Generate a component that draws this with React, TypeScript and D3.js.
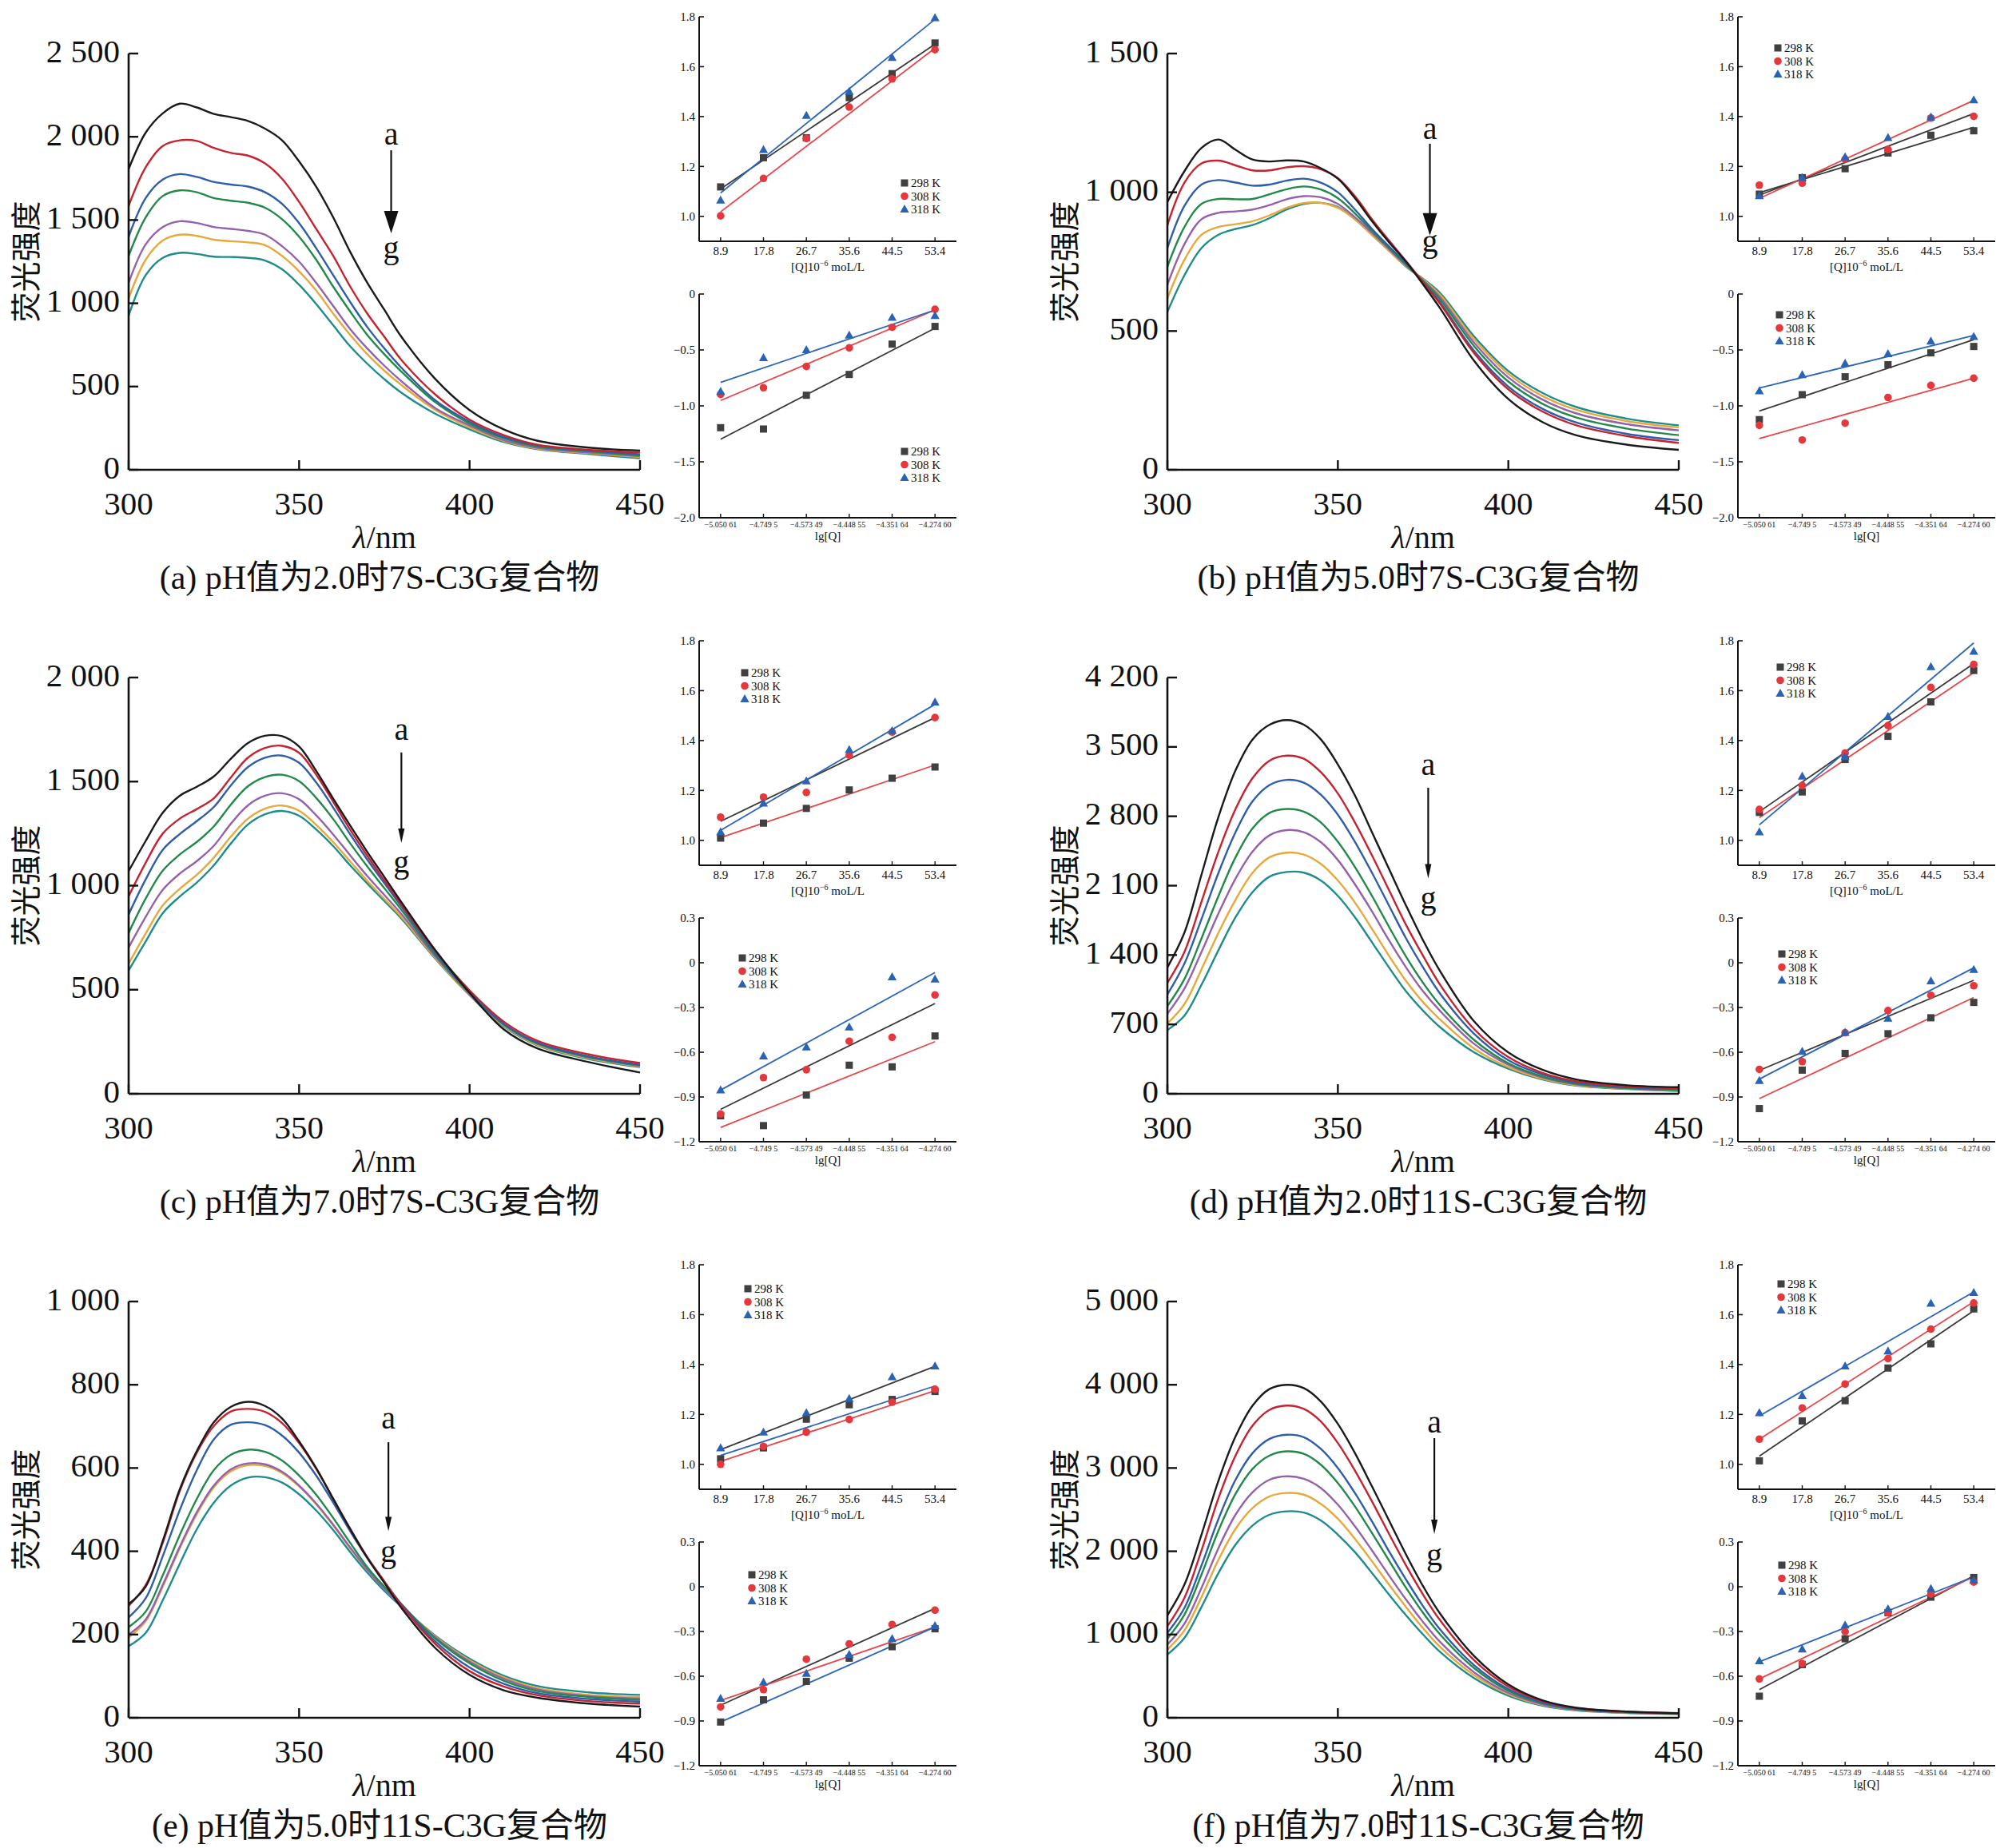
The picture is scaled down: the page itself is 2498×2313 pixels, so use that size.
import React from "react";
import * as d3 from "d3";

// wavelength grid shared by every emission spectrum (nm)
const wavelengths = [300, 305, 310, 315, 320, 325, 330, 335, 340, 345, 350, 355, 360, 365, 370, 375, 380, 390, 400, 410, 420, 435, 450];
const curveColors = ["#1a1a1a", "#c4232f", "#2f5ea8", "#23894a", "#9462ad", "#e6a93c", "#1f8c8c"];

// (a) pH 2.0 7S-C3G, curves a..g
const spectraA = [
  [1806, 2025, 2141, 2199, 2176, 2137, 2118, 2095, 2049, 1979, 1852, 1701, 1516, 1308, 1123, 961, 799, 544, 359, 243, 174, 133, 116],
  [1586, 1817, 1945, 1979, 1975, 1933, 1903, 1887, 1840, 1748, 1609, 1447, 1285, 1100, 938, 799, 660, 451, 301, 208, 150, 120, 104],
  [1400, 1632, 1743, 1776, 1759, 1729, 1713, 1701, 1667, 1597, 1481, 1331, 1169, 1007, 857, 729, 613, 417, 289, 197, 146, 116, 93],
  [1285, 1516, 1644, 1678, 1667, 1632, 1616, 1604, 1574, 1505, 1400, 1262, 1100, 950, 810, 694, 590, 405, 278, 190, 139, 111, 86],
  [1123, 1354, 1458, 1493, 1482, 1458, 1447, 1435, 1412, 1343, 1250, 1123, 984, 845, 729, 625, 532, 370, 266, 178, 132, 104, 81],
  [1030, 1262, 1377, 1412, 1405, 1382, 1373, 1366, 1349, 1285, 1192, 1077, 938, 810, 694, 595, 509, 359, 255, 174, 127, 100, 76],
  [926, 1169, 1273, 1303, 1296, 1280, 1278, 1273, 1257, 1204, 1111, 996, 868, 741, 637, 544, 463, 336, 243, 167, 123, 95, 69],
];
// (b) pH 5.0 7S-C3G
const spectraB = [
  [965, 1076, 1160, 1190, 1153, 1118, 1111, 1115, 1111, 1087, 1049, 979, 896, 820, 750, 668, 582, 392, 255, 172, 124, 90, 72],
  [882, 1035, 1104, 1114, 1097, 1079, 1079, 1090, 1094, 1083, 1051, 986, 903, 826, 752, 675, 598, 420, 290, 210, 160, 121, 97],
  [799, 951, 1028, 1044, 1035, 1024, 1028, 1042, 1049, 1035, 1000, 938, 868, 805, 745, 676, 603, 428, 300, 220, 170, 129, 107],
  [732, 875, 958, 976, 975, 976, 993, 1011, 1021, 1010, 979, 924, 861, 800, 740, 680, 614, 445, 318, 238, 188, 148, 125],
  [667, 813, 903, 926, 931, 938, 954, 975, 986, 982, 958, 910, 854, 795, 736, 683, 622, 458, 333, 253, 203, 164, 142],
  [618, 757, 847, 875, 885, 896, 917, 944, 961, 962, 944, 903, 847, 790, 733, 686, 630, 470, 346, 266, 216, 175, 153],
  [569, 701, 799, 847, 868, 882, 907, 938, 958, 962, 947, 903, 847, 790, 732, 688, 637, 480, 356, 277, 226, 184, 160],
];
// (c) pH 7.0 7S-C3G
const spectraC = [
  [1070, 1215, 1350, 1432, 1475, 1525, 1610, 1685, 1720, 1718, 1668, 1551, 1418, 1288, 1162, 1042, 921, 689, 485, 310, 217, 152, 102],
  [949, 1110, 1250, 1322, 1368, 1420, 1520, 1615, 1662, 1672, 1638, 1533, 1403, 1268, 1143, 1025, 910, 685, 497, 347, 254, 189, 148],
  [862, 1030, 1172, 1248, 1310, 1378, 1482, 1570, 1615, 1625, 1590, 1496, 1375, 1246, 1125, 1012, 900, 676, 490, 337, 245, 180, 139],
  [773, 938, 1072, 1150, 1210, 1285, 1390, 1478, 1522, 1533, 1502, 1422, 1320, 1203, 1092, 988, 884, 667, 484, 334, 241, 176, 137],
  [703, 850, 980, 1058, 1118, 1192, 1298, 1386, 1432, 1444, 1415, 1338, 1246, 1145, 1046, 955, 864, 658, 479, 332, 239, 174, 135],
  [625, 770, 905, 985, 1052, 1135, 1236, 1322, 1370, 1385, 1360, 1292, 1209, 1116, 1023, 936, 850, 652, 476, 328, 235, 171, 132],
  [593, 732, 868, 948, 1015, 1098, 1203, 1294, 1343, 1359, 1336, 1270, 1190, 1097, 1010, 926, 842, 648, 474, 324, 232, 167, 128],
];
// (d) pH 2.0 11S-C3G
const spectraD = [
  [1275, 1626, 2211, 2796, 3264, 3576, 3724, 3771, 3724, 3576, 3323, 3011, 2640, 2269, 1899, 1548, 1236, 729, 417, 242, 144, 86, 66],
  [1119, 1431, 1938, 2445, 2874, 3186, 3362, 3412, 3381, 3245, 3030, 2738, 2406, 2055, 1704, 1392, 1100, 651, 370, 211, 125, 74, 55],
  [1002, 1314, 1763, 2231, 2640, 2952, 3116, 3167, 3139, 3018, 2816, 2543, 2231, 1899, 1568, 1275, 1010, 604, 339, 195, 113, 66, 47],
  [885, 1158, 1568, 1997, 2387, 2679, 2835, 2874, 2847, 2738, 2543, 2289, 1997, 1685, 1384, 1119, 893, 542, 308, 175, 101, 58, 39],
  [807, 1061, 1431, 1821, 2172, 2445, 2609, 2660, 2640, 2539, 2359, 2114, 1841, 1548, 1275, 1033, 835, 503, 292, 164, 94, 55, 35],
  [710, 905, 1256, 1626, 1958, 2231, 2387, 2433, 2414, 2320, 2152, 1930, 1665, 1392, 1139, 924, 749, 456, 269, 152, 86, 51, 31],
  [643, 788, 1100, 1451, 1782, 2036, 2192, 2238, 2231, 2153, 1997, 1782, 1529, 1275, 1033, 838, 671, 417, 253, 144, 82, 47, 27],
];
// (e) pH 5.0 11S-C3G
const spectraE = [
  [273, 315, 425, 549, 641, 710, 747, 759, 749, 719, 664, 600, 526, 453, 384, 324, 264, 167, 103, 66, 48, 34, 27],
  [269, 319, 420, 545, 637, 701, 736, 742, 735, 708, 660, 598, 526, 454, 386, 328, 270, 177, 112, 75, 54, 40, 34],
  [241, 287, 388, 499, 595, 669, 704, 710, 703, 678, 637, 582, 517, 448, 384, 326, 273, 183, 121, 82, 59, 45, 39],
  [218, 255, 342, 439, 526, 595, 632, 644, 639, 618, 582, 536, 480, 420, 362, 315, 273, 190, 131, 89, 64, 50, 43],
  [200, 236, 319, 411, 494, 558, 597, 611, 609, 591, 558, 515, 464, 409, 356, 310, 269, 193, 135, 94, 68, 52, 46],
  [193, 232, 315, 407, 489, 554, 592, 607, 605, 588, 556, 513, 462, 407, 355, 310, 269, 195, 138, 97, 71, 55, 50],
  [172, 204, 282, 370, 453, 517, 558, 577, 578, 565, 537, 498, 451, 398, 349, 305, 267, 197, 142, 101, 76, 61, 55],
];
// (f) pH 7.0 11S-C3G
const spectraF = [
  [1230, 1600, 2200, 2850, 3380, 3750, 3950, 4000, 3960, 3800, 3530, 3180, 2780, 2370, 1960, 1580, 1250, 740, 400, 210, 120, 75, 55],
  [1100, 1440, 2010, 2640, 3150, 3510, 3700, 3750, 3710, 3560, 3300, 2970, 2600, 2210, 1830, 1480, 1170, 690, 375, 200, 115, 72, 53],
  [1020, 1320, 1830, 2390, 2860, 3180, 3350, 3400, 3370, 3230, 3000, 2700, 2360, 2000, 1660, 1340, 1060, 630, 345, 185, 108, 68, 51],
  [950, 1240, 1720, 2250, 2690, 2990, 3150, 3200, 3170, 3040, 2820, 2540, 2220, 1890, 1560, 1260, 1000, 595, 325, 175, 103, 65, 50],
  [880, 1130, 1560, 2040, 2440, 2710, 2860, 2900, 2870, 2760, 2560, 2300, 2010, 1710, 1420, 1150, 910, 545, 300, 163, 97, 62, 48],
  [820, 1050, 1450, 1900, 2270, 2520, 2660, 2700, 2680, 2570, 2390, 2150, 1880, 1600, 1330, 1075, 850, 510, 285, 155, 93, 60, 47],
  [760, 960, 1330, 1740, 2080, 2310, 2440, 2480, 2465, 2370, 2200, 1990, 1740, 1480, 1230, 1000, 790, 475, 265, 145, 88, 57, 45],
];

const xTicksMain = [300, 350, 400, 450];
const yTicksA = [0, 500, 1000, 1500, 2000, 2500];
const yLabelsA = ["0", "500", "1 000", "1 500", "2 000", "2 500"];
const yTicksB = [0, 500, 1000, 1500];
const yLabelsB = ["0", "500", "1 000", "1 500"];
const yTicksC = [0, 500, 1000, 1500, 2000];
const yLabelsC = ["0", "500", "1 000", "1 500", "2 000"];
const yTicksD = [0, 700, 1400, 2100, 2800, 3500, 4200];
const yLabelsD = ["0", "700", "1 400", "2 100", "2 800", "3 500", "4 200"];
const yTicksE = [0, 200, 400, 600, 800, 1000];
const yLabelsE = ["0", "200", "400", "600", "800", "1 000"];
const yTicksF = [0, 1000, 2000, 3000, 4000, 5000];
const yLabelsF = ["0", "1 000", "2 000", "3 000", "4 000", "5 000"];

// insets
const concLabels = ["8.9", "17.8", "26.7", "35.6", "44.5", "53.4"];
const lgLabels = ["−5.050 61", "−4.749 5", "−4.573 49", "−4.448 55", "−4.351 64", "−4.274 60"];
const tempLabels = ["298 K", "308 K", "318 K"];
const topTicks = [1.0, 1.2, 1.4, 1.6, 1.8];
const topTickLabels = ["1.0", "1.2", "1.4", "1.6", "1.8"];
const lowTicksWide = [0, -0.5, -1.0, -1.5, -2.0];
const lowTickLabelsWide = ["0", "−0.5", "−1.0", "−1.5", "−2.0"];
const lowTicksNarrow = [0.3, 0, -0.3, -0.6, -0.9, -1.2];
const lowTickLabelsNarrow = ["0.3", "0", "−0.3", "−0.6", "−0.9", "−1.2"];

const aTop298 = [1.118, 1.235, 1.315, 1.476, 1.572, 1.695];
const aTop308 = [1.002, 1.152, 1.312, 1.438, 1.551, 1.668];
const aTop318 = [1.064, 1.267, 1.404, 1.5, 1.636, 1.795];
const aTopFits = [[1.11, 1.69], [1.018, 1.674], [1.094, 1.79]];
const aLow298 = [-1.195, -1.207, -0.905, -0.719, -0.448, -0.29];
const aLow308 = [-0.898, -0.838, -0.648, -0.481, -0.298, -0.136];
const aLow318 = [-0.874, -0.571, -0.5, -0.369, -0.21, -0.195];
const aLowFits = [[-1.298, -0.305], [-0.952, -0.143], [-0.79, -0.143]];

const bTop298 = [1.089, 1.155, 1.191, 1.254, 1.325, 1.343];
const bTop308 = [1.125, 1.133, 1.229, 1.268, 1.394, 1.401];
const bTop318 = [1.082, 1.155, 1.237, 1.315, 1.397, 1.466];
const bTopFits = [[1.095, 1.357], [1.085, 1.412], [1.072, 1.465]];
const bLow298 = [-1.123, -0.9, -0.74, -0.632, -0.526, -0.469];
const bLow308 = [-1.174, -1.305, -1.155, -0.925, -0.817, -0.753];
const bLow318 = [-0.868, -0.724, -0.622, -0.536, -0.424, -0.383];
const bLowFits = [[-1.046, -0.408], [-1.292, -0.753], [-0.84, -0.37]];

const cTop298 = [1.009, 1.069, 1.128, 1.202, 1.249, 1.294];
const cTop308 = [1.093, 1.173, 1.192, 1.341, 1.434, 1.492];
const cTop318 = [1.033, 1.148, 1.237, 1.363, 1.439, 1.553];
const cTopFits = [[1.076, 1.492], [1.011, 1.302], [1.04, 1.545]];
const cLow298 = [-1.026, -1.092, -0.887, -0.687, -0.698, -0.491];
const cLow308 = [-1.014, -0.77, -0.717, -0.526, -0.5, -0.216];
const cLow318 = [-0.854, -0.627, -0.567, -0.433, -0.097, -0.111];
const cLowFits = [[-0.983, -0.273], [-1.104, -0.529], [-0.854, -0.066]];

const dTop298 = [1.112, 1.194, 1.324, 1.417, 1.555, 1.681];
const dTop308 = [1.124, 1.22, 1.35, 1.46, 1.613, 1.705];
const dTop318 = [1.033, 1.256, 1.335, 1.496, 1.695, 1.757];
const dTopFits = [[1.115, 1.709], [1.091, 1.673], [1.062, 1.791]];
const dLow298 = [-0.978, -0.72, -0.608, -0.476, -0.369, -0.266];
const dLow308 = [-0.715, -0.663, -0.469, -0.321, -0.218, -0.154];
const dLow318 = [-0.792, -0.596, -0.469, -0.374, -0.123, -0.047];
const dLowFits = [[-0.722, -0.118], [-0.911, -0.233], [-0.78, -0.034]];

const eTop298 = [1.022, 1.066, 1.181, 1.239, 1.26, 1.292];
const eTop308 = [1.0, 1.072, 1.129, 1.18, 1.249, 1.301];
const eTop318 = [1.065, 1.128, 1.206, 1.263, 1.35, 1.393];
const eTopFits = [[1.059, 1.393], [1.012, 1.295], [1.036, 1.314]];
const eLow298 = [-0.907, -0.758, -0.635, -0.479, -0.402, -0.282];
const eLow308 = [-0.806, -0.69, -0.486, -0.383, -0.253, -0.157];
const eLow318 = [-0.75, -0.642, -0.582, -0.455, -0.349, -0.263];
const eLowFits = [[-0.794, -0.145], [-0.763, -0.27], [-0.907, -0.27]];

const fTop298 = [1.014, 1.174, 1.255, 1.386, 1.483, 1.623];
const fTop308 = [1.101, 1.226, 1.322, 1.424, 1.542, 1.647];
const fTop318 = [1.206, 1.275, 1.393, 1.453, 1.645, 1.688];
const fTopFits = [[1.033, 1.616], [1.101, 1.652], [1.194, 1.691]];
const fLow298 = [-0.734, -0.522, -0.349, -0.174, -0.07, 0.062];
const fLow308 = [-0.618, -0.515, -0.301, -0.174, -0.049, 0.031];
const fLow318 = [-0.498, -0.419, -0.258, -0.15, -0.013, 0.043];
const fLowFits = [[-0.69, 0.074], [-0.618, 0.067], [-0.503, 0.067]];

const markerColors = ["#404040", "#e5383d", "#2a63b3"];
const fitColors = ["#3a3a3a", "#e5474a", "#2b66b8"];
const fitColorsB = ["#3a3a3a", "#3a3a3a", "#e5474a"];

const SERIF = "'Liberation Serif', 'Times New Roman', 'Noto Sans CJK SC', serif";
const MAIN = { left: 161, right: 801, top: 67, bottom: 588 };
const INSET = { left: 875, right: 1197, topT: 21, topB: 302, lowT: 368, lowB: 648 };
const COL_X = [0, 1300];
const ROW_Y = [0, 781, 1562];

const panels = [
  {
    spectra: spectraA, yMax: 2500, yTicks: yTicksA, yLabels: yLabelsA,
    caption: "(a) pH值为2.0时7S-C3G复合物",
    arrow: { lambda: 377, a: 2010, from: 1919, to: 1420, g: 1310, big: true },
    top: { s: [aTop298, aTop308, aTop318], fits: aTopFits, colors: fitColors, legend: [257, 208] },
    low: { s: [aLow298, aLow308, aLow318], fits: aLowFits, colors: fitColors, legend: [257, 197], wide: true },
  },
  {
    spectra: spectraB, yMax: 1500, yTicks: yTicksB, yLabels: yLabelsB,
    caption: "(b) pH值为5.0时7S-C3G复合物",
    arrow: { lambda: 377, a: 1226, from: 1175, to: 844, g: 809, big: true },
    top: { s: [bTop298, bTop308, bTop318], fits: bTopFits, colors: fitColorsB, legend: [50, 39] },
    low: { s: [bLow298, bLow308, bLow318], fits: bLowFits, colors: fitColors, legend: [52, 26], wide: true },
  },
  {
    spectra: spectraC, yMax: 2000, yTicks: yTicksC, yLabels: yLabelsC,
    caption: "(c) pH值为7.0时7S-C3G复合物",
    arrow: { lambda: 380, a: 1745, from: 1640, to: 1205, g: 1095, big: false },
    top: { s: [cTop298, cTop308, cTop318], fits: cTopFits, colors: fitColors, legend: [57, 40] },
    low: { s: [cLow298, cLow308, cLow318], fits: cLowFits, colors: fitColors, legend: [54, 50], wide: false },
  },
  {
    spectra: spectraD, yMax: 4200, yTicks: yTicksD, yLabels: yLabelsD,
    caption: "(d) pH值为2.0时11S-C3G复合物",
    arrow: { lambda: 376.5, a: 3311, from: 3088, to: 2172, g: 1938, big: false },
    top: { s: [dTop298, dTop308, dTop318], fits: dTopFits, colors: fitColors, legend: [53, 33] },
    low: { s: [dLow298, dLow308, dLow318], fits: dLowFits, colors: fitColors, legend: [55, 45], wide: false },
  },
  {
    spectra: spectraE, yMax: 1000, yTicks: yTicksE, yLabels: yLabelsE,
    caption: "(e) pH值为5.0时11S-C3G复合物",
    arrow: { lambda: 376.2, a: 718, from: 662, to: 448, g: 390, big: false },
    top: { s: [eTop298, eTop308, eTop318], fits: eTopFits, colors: fitColors, legend: [61, 30] },
    low: { s: [eLow298, eLow308, eLow318], fits: eLowFits, colors: fitColors, legend: [66, 41], wide: false },
  },
  {
    spectra: spectraF, yMax: 5000, yTicks: yTicksF, yLabels: yLabelsF,
    caption: "(f) pH值为7.0时11S-C3G复合物",
    arrow: { lambda: 378.3, a: 3541, from: 3359, to: 2207, g: 1910, big: false },
    top: { s: [fTop298, fTop308, fTop318], fits: fTopFits, colors: fitColors, legend: [54, 24] },
    low: { s: [fLow298, fLow308, fLow318], fits: fLowFits, colors: fitColors, legend: [55, 29], wide: false },
  },
];

const Marker = ({ kind, x, y }: { kind: number; x: number; y: number }) => {
  if (kind === 0) return <rect x={x - 4.5} y={y - 4.5} width={9} height={9} fill={markerColors[0]} />;
  if (kind === 1) return <circle cx={x} cy={y} r={4.8} fill={markerColors[1]} />;
  return <path d={`M${x},${y - 6} L${x + 5.6},${y + 4} L${x - 5.6},${y + 4} Z`} fill={markerColors[2]} />;
};

const SpectrumPanel = ({ p }: { p: any }) => {
  const x = d3.scaleLinear().domain([300, 450]).range([MAIN.left, MAIN.right]);
  const y = d3.scaleLinear().domain([0, p.yMax]).range([MAIN.bottom, MAIN.top]);
  const line = d3
    .line<number>()
    .x((_, i) => x(wavelengths[i]))
    .y(d => y(d))
    .curve(d3.curveCatmullRom.alpha(0.5));
  const ax = x(p.arrow.lambda);
  const head = p.arrow.big ? { w: 18, h: 28 } : { w: 8, h: 18 };
  const yEnd = y(p.arrow.to);
  const cx = (MAIN.left + MAIN.right) / 2;
  return (
    <g fontFamily={SERIF}>
      {p.spectra
        .map((s: number[], i: number) => (
          <path key={i} d={line(s) || ""} fill="none" stroke={curveColors[i]} strokeWidth={2.4} />
        ))
        .reverse()}
      <line x1={MAIN.left} x2={MAIN.left} y1={MAIN.top} y2={MAIN.bottom} stroke="#111" strokeWidth={2.6} />
      <line x1={MAIN.left} x2={MAIN.right} y1={MAIN.bottom} y2={MAIN.bottom} stroke="#111" strokeWidth={2.6} />
      {p.yTicks.map((t: number, i: number) => (
        <g key={t}>
          <line x1={MAIN.left} x2={MAIN.left + 12} y1={y(t)} y2={y(t)} stroke="#111" strokeWidth={2.4} />
          <text x={MAIN.left - 11} y={y(t) - 3} dy="0.33em" textAnchor="end" fontSize={41} fill="#111">
            {p.yLabels[i]}
          </text>
        </g>
      ))}
      {xTicksMain.map(t => (
        <g key={t}>
          <line x1={x(t)} x2={x(t)} y1={MAIN.bottom} y2={MAIN.bottom - 12} stroke="#111" strokeWidth={2.4} />
          <text x={x(t)} y={MAIN.bottom + 56} textAnchor="middle" fontSize={41} fill="#111">
            {t}
          </text>
        </g>
      ))}
      <text x={cx} y={MAIN.bottom + 98} textAnchor="middle" fontSize={40} fill="#111">
        <tspan fontStyle="italic">λ</tspan>/nm
      </text>
      <text
        transform={`translate(33,${(MAIN.top + MAIN.bottom) / 2}) rotate(-90)`}
        textAnchor="middle"
        dy="0.35em"
        fontSize={38}
        fill="#111"
        fontFamily="'Noto Sans CJK SC', sans-serif"
      >
        荧光强度
      </text>
      <text x={cx - 6} y={MAIN.bottom + 149} textAnchor="middle" fontSize={42} fill="#111">
        {p.caption}
      </text>
      <text x={ax} y={y(p.arrow.a)} dy="0.3em" textAnchor="middle" fontSize={40} fill="#111">a</text>
      <line x1={ax} x2={ax} y1={y(p.arrow.from)} y2={yEnd - head.h + 2} stroke="#111" strokeWidth={2.2} />
      <path d={`M${ax - head.w / 2},${yEnd - head.h} L${ax + head.w / 2},${yEnd - head.h} L${ax},${yEnd} Z`} fill="#111" />
      <text x={ax} y={y(p.arrow.g)} dy="0.2em" textAnchor="middle" fontSize={40} fill="#111">g</text>
    </g>
  );
};

const Inset = ({ d, lower }: { d: any; lower: boolean }) => {
  const top = lower ? INSET.lowT : INSET.topT;
  const bottom = lower ? INSET.lowB : INSET.topB;
  const domain = lower ? (d.wide ? [-2.0, 0] : [-1.2, 0.3]) : [0.9, 1.8];
  const ticks = lower ? (d.wide ? lowTicksWide : lowTicksNarrow) : topTicks;
  const tickLabels = lower ? (d.wide ? lowTickLabelsWide : lowTickLabelsNarrow) : topTickLabels;
  const xLabels = lower ? lgLabels : concLabels;
  const x = d3.scalePoint<string>().domain(xLabels).range([INSET.left, INSET.right]).padding(0.5);
  const y = d3.scaleLinear().domain(domain).range([bottom, top]);
  const x0 = x(xLabels[0]) as number;
  const x1 = x(xLabels[xLabels.length - 1]) as number;
  return (
    <g fontFamily={SERIF} fill="#111">
      {d.fits.map((f: number[], i: number) => (
        <line key={i} x1={x0} x2={x1} y1={y(f[0])} y2={y(f[1])} stroke={d.colors[i]} strokeWidth={1.8} />
      ))}
      {d.s.map((s: number[], k: number) =>
        s.map((v, i) => <Marker key={`${k}-${i}`} kind={k} x={x(xLabels[i]) as number} y={y(v)} />)
      )}
      <line x1={INSET.left} x2={INSET.left} y1={top} y2={bottom} stroke="#111" strokeWidth={2} />
      <line x1={INSET.left} x2={INSET.right} y1={bottom} y2={bottom} stroke="#111" strokeWidth={2} />
      {ticks.map((t: number, i: number) => (
        <g key={t}>
          <line x1={INSET.left} x2={INSET.left + 6} y1={y(t)} y2={y(t)} stroke="#111" strokeWidth={1.6} />
          <text x={INSET.left - 5} y={y(t)} dy="0.35em" textAnchor="end" fontSize={15}>
            {tickLabels[i]}
          </text>
        </g>
      ))}
      {xLabels.map(l => (
        <g key={l}>
          <line x1={x(l)} x2={x(l)} y1={bottom} y2={bottom - 5} stroke="#111" strokeWidth={1.4} />
          <text x={x(l)} y={bottom + (lower ? 12 : 17)} textAnchor="middle" fontSize={lower ? 10 : 15}>
            {l}
          </text>
        </g>
      ))}
      {lower ? (
        <text x={(INSET.left + INSET.right) / 2} y={bottom + 28} textAnchor="middle" fontSize={15}>
          lg[Q]
        </text>
      ) : (
        <text x={(INSET.left + INSET.right) / 2} y={bottom + 37} textAnchor="middle" fontSize={15}>
          [Q]10<tspan dy={-6} fontSize={10}>−6</tspan>
          <tspan dy={6}> moL/L</tspan>
        </text>
      )}
      {tempLabels.map((t, k) => {
        const mx = INSET.left + d.legend[0];
        const my = top + d.legend[1] + k * 16.5;
        return (
          <g key={t}>
            <Marker kind={k} x={mx} y={my} />
            <text x={mx + 8} y={my} dy="0.35em" fontSize={15}>
              {t}
            </text>
          </g>
        );
      })}
    </g>
  );
};

const App = () => (
  <svg
    width={2498}
    height={2313}
    viewBox="0 0 2498 2313"
    style={{ position: "absolute", left: 0, top: 0, background: "#fff" }}
  >
    <rect width={2498} height={2313} fill="#fff" />
    {panels.map((p, i) => (
      <g key={i} transform={`translate(${COL_X[i % 2]},${ROW_Y[Math.floor(i / 2)]})`}>
        <SpectrumPanel p={p} />
        <Inset d={p.top} lower={false} />
        <Inset d={p.low} lower={true} />
      </g>
    ))}
  </svg>
);

export default App;
